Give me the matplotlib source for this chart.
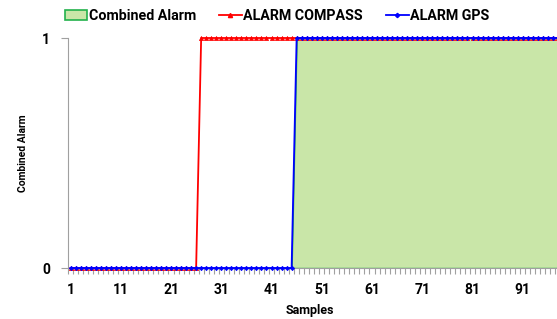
import matplotlib
matplotlib.use("Agg")
import matplotlib.pyplot as plt
import numpy as np
from matplotlib.patches import Patch
from matplotlib.lines import Line2D

plt.rcParams['font.family'] = ['Roboto', 'DejaVu Sans']

samples = list(range(1, 101))
alarm_compass = [0] * 26 + [1] * 74
alarm_gps = [0] * 45 + [1] * 55
combined_alarm = [0] * 45 + [1] * 55
xtick_labels = [1, 11, 21, 31, 41, 51, 61, 71, 81, 91]

W, H = 557, 319
fig = plt.figure(figsize=(W / 100, H / 100), dpi=100)
x0 = 68
unit = 5.03
x_right = 70 + (100.5 - 1) * unit
ax = fig.add_axes([x0 / W, (H - 268) / H, (x_right - x0) / W, (268 - 38) / H])

ax.fill_between(samples, combined_alarm, 0, facecolor='#C9E6A8', edgecolor='#22B14C', linewidth=1.0, zorder=1)
ax.plot(samples, alarm_compass, color='#FF0000', lw=1.3, marker='^', ms=3, mew=0.5, zorder=3, clip_on=False)
ax.plot(samples, alarm_gps, color='#0000FF', lw=1.3, marker='D', ms=2.2, mew=0.5, zorder=4, clip_on=False)

ax.set_xlim(0.5, 100.5)
ax.set_ylim(0, 1)
ax.set_xticks(xtick_labels)
ax.set_xticklabels([str(v) for v in xtick_labels], fontsize=10, fontweight='bold')
ax.set_xticks(np.arange(0.5, 100.5, 1), minor=True)
ax.tick_params(axis='x', which='major', length=0, pad=11)
ax.tick_params(axis='x', which='minor', length=4, color='#A0A0A0', width=0.8)
ax.set_yticks([0, 1])
ax.set_yticklabels(['0', '1'], fontsize=10, fontweight='bold')
ax.tick_params(axis='y', length=5, color='#A0A0A0', width=0.8, pad=8)

for s in ['top', 'right']:
    ax.spines[s].set_visible(False)
ax.spines['left'].set_color('#A0A0A0')
ax.spines['bottom'].set_color('#A0A0A0')

ax.set_xlabel('Samples', fontsize=9, fontweight='bold', labelpad=0)
ax.set_ylabel('Combined Alarm', fontsize=7.5, fontweight='bold', labelpad=10)
ax.xaxis.set_label_coords((310 - x0) / (x_right - x0), -(304 - 268) / (268 - 38))

handles = [
    Patch(facecolor='#C9E6A8', edgecolor='#22B14C', linewidth=1.2, label='Combined Alarm'),
    Line2D([], [], color='#FF0000', lw=1.3, marker='^', ms=3, label='ALARM COMPASS'),
    Line2D([], [], color='#0000FF', lw=1.3, marker='D', ms=2.2, label='ALARM GPS'),
]
fig.legend(handles=handles, loc='center', bbox_to_anchor=(277 / W, 1 - 16 / H), ncol=3,
           frameon=False, prop={'weight': 'bold', 'size': 10.3}, handlelength=1.6,
           handletextpad=0.1, columnspacing=1.6, borderaxespad=0)

fig.savefig('out.png', dpi=100)
